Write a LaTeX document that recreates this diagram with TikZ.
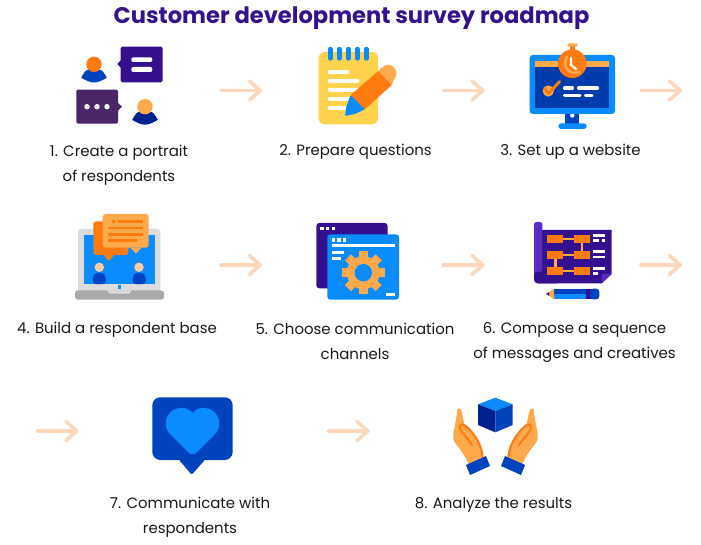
\documentclass[tikz,border=0pt]{standalone}
\usepackage{fontspec}
\setmainfont{Poppins}
\definecolor{ttl}{HTML}{34128C}
\definecolor{deep}{HTML}{340F8F}
\definecolor{plum}{HTML}{4A2667}
\definecolor{violet}{HTML}{5A2BBF}
\definecolor{oran}{HTML}{FF7A0F}
\definecolor{lora}{HTML}{FFA94D}
\definecolor{skin}{HTML}{FFCBA0}
\definecolor{royal}{HTML}{0043BE}
\definecolor{navy}{HTML}{00228F}
\definecolor{sky}{HTML}{0A8CFF}
\definecolor{yell}{HTML}{FFD24D}
\definecolor{arr}{HTML}{FFD7BC}
\definecolor{lgrey}{HTML}{DCDCDC}
\definecolor{mgrey}{HTML}{A9A9A9}
\tikzset{
  lbl/.style={align=center,text=black!90,font=\fontsize{14.95}{25}\selectfont,inner sep=0pt},
  ttlnode/.style={text=ttl,font=\fontsize{22.6}{25}\selectfont\bfseries,inner sep=0pt},
  flow/.style={draw=arr,line width=3.6pt,line cap=round,line join=round},
  wline/.style={draw=white,line width=3.2pt,line cap=round},
  boxo/.style={fill=oran},
  link/.style={draw=lora,line width=2.4pt},
}
\newcommand{\bodyat}[3]{\fill[#3] (#1-12.8,#2+8.2) .. controls (#1-10,#2+3) and (#1-8,#2) .. (#1-5,#2) -- (#1+5,#2) .. controls (#1+8,#2) and (#1+10,#2+3) .. (#1+12.8,#2+8.2) .. controls (#1+8,#2+11) and (#1+4,#2+13) .. (#1,#2+13) .. controls (#1-4,#2+13) and (#1-8,#2+11) .. (#1-12.8,#2+8.2) -- cycle;}
\newcommand{\arrowrun}[3]{%
  \coordinate (#1s) at (#2+0.5,#3);
  \coordinate (#1e) at (#2+39.7,#3);
  \coordinate (#1u) at (#2+29,#3-9.5);
  \coordinate (#1d) at (#2+29,#3+9.5);
  \draw[flow] (#1s) -- (#1e);
  \draw[flow] (#1u) -- (#1e) -- (#1d);}
\newcommand{\handshape}{%
  \fill[lora] (457.5,408.5) .. controls (460,407.5) and (461,409) .. (462,413) -- (464.5,425) .. controls (466,428) and (470,431) .. (473,434) .. controls (478,440) and (482,447) .. (483,452) -- (484,458) -- (469,465) .. controls (466,457) and (460,449) .. (456,444) .. controls (453,441) and (453,437) .. (453.5,432) -- (456,420) -- cycle;
  \draw[oran,line width=2pt,line cap=round] (482,456) .. controls (482,446) and (476,436) .. (468,428) .. controls (464,423) and (459,424) .. (460,428) .. controls (461,433) and (467,437) .. (472,445);
  \fill[royal] (466,465) -- (486,456) -- (490,466) -- (470,475) -- cycle;}
\begin{document}
\begin{tikzpicture}[x=1pt,y=-1pt]
\useasboundingbox (0,0) rectangle (701,545);
\fill[white] (0,0) rectangle (701,545);
\node[ttlnode] (title) at (351.5,18) {Customer development survey roadmap};

% icon 1
\fill[deep,rounded corners=1.5pt] (120.7,46.7) rectangle (162.7,82.3);
\fill[deep] (121,60) -- (117.3,64) -- (121,68) -- cycle;
\fill[white,rounded corners=2pt] (131.3,57.3) rectangle (152.3,62);
\fill[white,rounded corners=2pt] (131.3,67) rectangle (152.3,72);
\fill[plum,rounded corners=1.5pt] (76.3,89.7) rectangle (118,123.7);
\fill[plum] (118,103) -- (122,106.7) -- (118,110.5) -- cycle;
\foreach \dx in {87,97,107} \fill[white] (\dx,106.7) circle (2.7pt);
\bodyat{94}{69.5}{royal}
\fill[oran] (94,64.3) circle (7.7pt);
\bodyat{145}{111.7}{navy}
\fill[lora] (145,106.7) circle (7.7pt);
\node[lbl] (t1) at (119,165) {1. Create a portrait\\of respondents};
\arrowrun{aA}{220.5}{90.5}

% icon 2
\fill[yell,rounded corners=6pt] (318.7,52) rectangle (378,124.3);
\foreach \dx in {330.3,339.3,348.3,357.3,366.3}
  \draw[sky,line width=4.4pt,line cap=round] (\dx,49) -- (\dx,58.5);
\foreach \yy/\xe in {72/347.5,81/357.5,90/357.5,99/350,108/347}
  \draw[wline,line width=4pt] (329.5,\yy) -- (\xe,\yy);
\fill[lora] (378.3,71) -- (382,67.5) .. controls (386,63.5) and (391,64) .. (394,67.5) .. controls (397.5,71) and (397,76) .. (394,79.5) -- (391.7,85) -- cycle;
\fill[oran] (378.3,71) -- (391.7,85) -- (365,109.3) -- (350.7,95) -- cycle;
\fill[sky,rounded corners=1pt] (350.7,95) -- (365,109.3) -- (355,114) -- (345,116) -- (346.5,106) -- cycle;
\node[lbl] (t2) at (355.5,151.5) {2. Prepare questions};
\arrowrun{aB}{443}{90.5}

% icon 3
\fill[royal] (565,113) rectangle (579.3,124);
\fill[white] (572.3,115.5) circle (2.2pt);
\fill[sky,rounded corners=3pt] (558.3,123.3) rectangle (586.7,129);
\fill[sky,rounded corners=3pt] (529.7,55) rectangle (615,114);
\fill[royal!90!black] (535.3,60.7) rectangle (609.3,108.3);
\fill[lora] (535.3,60.7) rectangle (609.3,66.7);
\fill[oran] (570,45) rectangle (575,52);
\fill[lora,rounded corners=1.5pt] (567.3,43.3) rectangle (577.7,46.7);
\fill[oran] (572.3,63.7) circle (14.3pt);
\draw[lora,line width=2.6pt,line cap=round] (567,57) .. controls (562,66) and (568,75) .. (580,72);
\draw[white,line width=2.2pt,line cap=round] (571,58) -- (571,65) -- (576,69);
\fill[lora] (548.3,91) circle (5.6pt);
\draw[oran,line width=3pt,line cap=round,line join=round] (544.5,88.5) -- (549,93.5) -- (559.5,81.5);
\foreach \xa/\xb/\yy in {564.5/572.5/88,578.5/597.5/88,564.5/580/95.3,585.5/592/95.3}
  \draw[wline] (\xa,\yy) -- (\xb,\yy);
\node[lbl] (t3) at (570.5,151.5) {3. Set up a website};
\arrowrun{aC}{640.5}{90.5}

% icon 4
\fill[lgrey,rounded corners=3pt] (78,229) rectangle (160.3,292);
\fill[sky] (84,235.3) rectangle (155,284);
\fill[mgrey,rounded corners=3pt] (75,290.3) rectangle (164,299.7);
\fill[lgrey] (106.5,290.3) -- (132,290.3) -- (129,293.7) -- (110,293.7) -- cycle;
\fill[sky] (117.6,285.3) rectangle (121,288.7);
\fill[skin] (99.3,267.3) circle (4.7pt);
\fill[skin] (139,267.3) circle (4.7pt);
\fill[royal,rounded corners=3pt] (93,284) -- (93,276) -- (96,272.7) -- (102.5,272.7) -- (105.7,276) -- (105.7,284) -- cycle;
\fill[royal,rounded corners=3pt] (132.7,284) -- (132.7,276) -- (136,272.7) -- (142.5,272.7) -- (145.7,276) -- (145.7,284) -- cycle;
\fill[oran,rounded corners=3pt] (93.3,221.3) rectangle (128.3,255);
\fill[oran] (103.5,255) -- (109,261) -- (114.5,255) -- cycle;
\fill[lora,rounded corners=3pt] (102.7,214) rectangle (148.7,247.7);
\fill[lora] (130.5,247.7) -- (136,253.7) -- (141.5,247.7) -- cycle;
\fill[oran] (111.7,219.7) rectangle (115,223);
\fill[oran] (117.7,220) rectangle (142.7,222.7);
\foreach \yy/\xe in {228/142.7,234.3/142.7,240.3/136.7}
  \fill[oran] (108.3,\yy-1.4) rectangle (\xe,\yy+1.4);
\node[lbl] (t4) at (117,329.5) {4. Build a respondent base};
\arrowrun{aD}{220.5}{265}

% icon 5
\fill[deep,rounded corners=3pt] (316.3,223) rectangle (387.7,288.3);
\foreach \dx in {322,327.7,333.3} \fill[white] (\dx-1.7,227) rectangle (\dx+1.7,230.4);
\fill[sky,rounded corners=3pt] (327.3,234.3) rectangle (399,299.7);
\foreach \dx in {333.3,339,344.7} \fill[white] (\dx-1.7,238.3) rectangle (\dx+1.7,241.7);
\fill[white] (331.7,244.2) rectangle (394.7,247.2);
\fill[white] (331.7,251.2) rectangle (343.7,254.2);
\fill[white] (331.7,257.2) rectangle (341,260.2);
\fill[white] (386,292.5) rectangle (394.7,295.5);
\begin{scope}[shift={(363.3,272.7)}]
  \fill[lora] circle (16.5pt);
  \foreach \ang in {0,45,...,315}
    \fill[lora,rotate=\ang] (21.7,-4.3) -- (21.7,4.3) -- (14,4.3) -- (14,-4.3) -- cycle;
  \fill[sky] circle (8.7pt);
\end{scope}
\node[lbl] (t5) at (355,341) {5. Choose communication\\channels};
\arrowrun{aE}{443}{265}

% icon 6
\fill[deep] (538,230) -- (611.7,230) -- (611.7,274) -- (601.7,283.3) -- (538,283.3) -- cycle;
\fill[deep,rounded corners=3.5pt] (534,270) rectangle (560,283.3);
\fill[violet,rounded corners=2.5pt] (534,276) -- (534,222) -- (542.3,222) -- (542.3,272) -- (538,272) .. controls (535,272) and (534,274) .. (534,276) -- cycle;
\fill[violet] (601.7,274) -- (611.7,274) -- (601.7,283.3) -- cycle;
\foreach \yy in {239.3,255.3,271.3} \draw[link] (563.3,\yy) -- (574,\yy);
\draw[link] (582,243.3) -- (582,251.3);
\draw[link] (555.3,259.3) -- (555.3,267.3);
\foreach \yy in {235.3,251.3,267.3} {
  \fill[boxo] (547.3,\yy) rectangle (563.3,\yy+8);
  \fill[boxo] (574,\yy) rectangle (590,\yy+8);
}
\foreach \xa/\xb/\yy in {593.3/605/235.3,593.3/599.3/240.7,601.7/605/240.7,593.3/605/251.7,593.3/605/257,593.3/605/268.3,593.3/598/273.7}
  \fill[white] (\xa,\yy-1.3) rectangle (\xb,\yy+1.3);
\fill[royal] (554,288.7) rectangle (590,294);
\fill[sky] (554,294) rectangle (590,299.3);
\fill[deep] (585.5,288.7) rectangle (591.7,299.3);
\fill[royal,rounded corners=3pt] (590,288.7) -- (599.3,288.7) -- (599.3,299.3) -- (590,299.3) -- cycle;
\fill[lora] (554,288.7) -- (554,299.3) -- (548,295) -- (548,293) -- cycle;
\fill[deep] (549,292.2) -- (546,294) -- (549,295.8) -- cycle;
\node[lbl] (t6) at (574.5,343) {6. Compose a sequence\\of messages and creatives};
\arrowrun{aF}{640.5}{265}

% icon 7
\fill[royal,rounded corners=8pt] (152.3,397.3) rectangle (232.7,460);
\fill[royal,rounded corners=2pt] (178.3,459) -- (191.7,474.8) -- (205.7,459) -- cycle;
\fill[sky] (192.7,413) .. controls (187,406.5) and (178,406.5) .. (172,411) .. controls (164,417) and (164,428) .. (170,434) -- (188,452) .. controls (191,455) and (194,455) .. (197,452) -- (215,434) .. controls (221,428) and (221,417) .. (213,411) .. controls (207,406.5) and (198,406.5) .. (192.7,413) -- cycle;
\node[lbl] (t7) at (190,517) {7. Communicate with\\respondents};
\arrowrun{aG}{37}{431}
\arrowrun{aH}{328}{431}

% icon 8
\fill[sky] (495.3,397.7) -- (512.7,404.3) -- (495.3,411) -- (478,404.3) -- cycle;
\fill[navy] (478,404.3) -- (495.3,411) -- (495.3,432.3) -- (478,425) -- cycle;
\fill[royal] (512.7,404.3) -- (495.3,411) -- (495.3,432.3) -- (512.7,425) -- cycle;
\handshape
\begin{scope}[xshift=991pt,xscale=-1]
\handshape
\end{scope}
\node[lbl] (t8) at (493.5,504.5) {8. Analyze the results};
\end{tikzpicture}
\end{document}
